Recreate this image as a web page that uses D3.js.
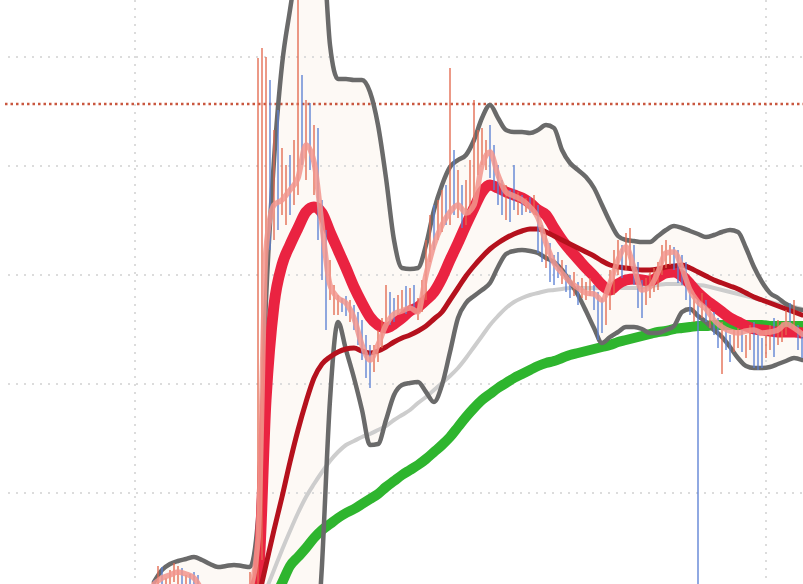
<!DOCTYPE html>
<html><head><meta charset="utf-8">
<script src="https://cdn.jsdelivr.net/npm/d3@7"></script>
<style>html,body{margin:0;padding:0;background:#fff;overflow:hidden}</style>
</head><body>
<svg id="chart" width="803" height="584"></svg>
<script>
// ---- data (price in points, bar index on x) ----
const BAR_COUNT = 163;
const LINE_STEP = 2;
const gridLevels = [543, 434, 325, 216, 107];
const timeGridBars = [-4.75, 153];
const alertLevel = 496;

const bandStart = 0;
const upperBand = [18,30,36,39,41,43,40,36,33,34,
  35,34,33,80,300,440,535,590,640,680,
  670,660,555,521,521,520,520,508,475,422,
  360,332,331,332,355,390,415,433,440,445,
  460,482,495,482,470,468,468,467,470,475,
  472,450,437,430,423,412,395,378,364,360,
  359,358,358,364,370,374,372,369,366,363,
  365,368,370,368,352,333,318,307,302,296,
  292,290];
const lowerBand = [0,-5,-8,-10,-10,-10,-8,-6,-4,-4,
  -4,-4,-3,-20,-100,-200,-280,-300,-280,-220,
  -100,35,200,278,250,222,190,155,156,180,
  205,215,217,218,208,198,215,248,282,297,
  304,310,317,333,346,349,350,349,347,342,
  338,330,318,305,289,272,257,263,268,273,
  273,271,267,267,270,274,288,291,284,278,
  270,263,253,242,234,232,232,233,236,239,
  242,240];

const fastStart = 0;
const fastMA = [16,22,25,28,26,22,10,0,-5,-5,
  0,5,12,60,350,395,400,410,422,455,
  438,375,315,302,297,282,255,240,255,275,
  286,289,292,288,325,355,375,388,395,387,
  395,435,448,425,408,404,400,393,382,357,
  337,327,318,312,307,306,300,317,340,353,
  332,310,313,328,347,348,332,310,298,291,
  280,273,269,267,269,270,267,268,270,276,
  272,266];

const ma20Start = 22;
const ma20 = [5,8,22,200,295,335,355,372,388,393,
  387,368,350,332,313,297,283,275,272,276,
  282,289,293,300,308,322,340,357,375,392,
  408,415,412,408,405,402,397,390,385,372,
  360,350,341,332,324,315,310,316,320,321,
  320,319,323,327,328,324,316,307,300,294,
  288,282,278,274,271,270,269,268,268,268,
  267];

const ma50Start = 26;
const ma50 = [0,35,70,103,138,170,198,222,236,243,
  248,251,252,249,247,249,253,258,262,265,
  269,274,281,288,300,312,324,334,343,351,
  357,362,366,369,371,371,368,364,360,356,
  352,348,344,339,335,333,332,331,330,330,
  331,333,334,335,332,328,324,320,317,314,
  311,307,303,300,297,294,291,288,285];

const ma100Start = 28;
const ma100 = [10,30,50,69,87,103,116,128,139,148,
  155,159,163,166,170,174,180,185,190,197,
  203,210,217,224,232,242,253,264,275,284,
  292,298,302,305,307,309,310,311,312,312,
  312,312,312,312,312,312,312,313,314,315,
  316,316,316,316,315,314,312,310,308,306,
  304,302,300,298,296,295,293,291];

const ma200Start = 30;
const ma200 = [0,17,34,43,52,62,70,76,82,87,
  91,96,101,106,113,119,125,130,135,141,
  148,155,163,173,183,192,200,206,212,217,
  222,226,230,234,237,239,242,245,247,249,
  251,253,255,258,260,262,264,266,268,269,
  271,272,273,274,274,275,275,275,275,275,
  275,275,274,274,274,274,274];

const candleHigh = [20,34,33,22,30,37,34,32,25,26,
  28,25,10,6,2,0,-2,0,2,4,
  6,10,12,15,28,32,542,552,543,520,
  470,490,452,435,445,460,600,525,500,497,
  475,472,400,370,340,315,305,302,304,300,
  295,288,280,265,255,255,270,282,315,308,
  302,305,310,314,312,315,302,320,360,385,
  395,400,410,415,532,450,430,415,420,440,
  500,470,472,460,475,455,435,420,415,410,
  435,408,405,402,403,405,395,375,365,357,
  345,348,340,335,325,328,318,322,318,322,
  315,308,302,305,330,350,360,355,367,372,
  355,338,320,322,328,332,338,355,360,355,
  353,350,345,338,310,305,300,307,300,292,
  288,282,278,272,265,270,272,270,265,275,
  278,270,262,270,275,282,280,278,290,297,
  300,275,268];
const candleLow = [10,16,12,8,14,18,16,15,10,10,
  8,5,-5,-8,-12,-15,-16,-14,-12,-10,
  -8,-4,-2,0,8,10,16,40,300,350,
  360,370,385,375,385,395,405,435,420,430,
  405,360,320,270,300,285,285,288,284,278,
  270,255,240,222,212,228,238,252,278,275,
  278,285,288,286,290,292,280,288,300,338,
  350,360,368,375,375,385,382,372,375,385,
  400,425,435,430,422,410,395,385,380,378,
  390,385,385,388,387,385,347,338,332,318,
  315,322,316,308,302,304,295,302,300,304,
  290,260,267,275,290,305,325,322,330,334,
  315,292,282,295,302,308,310,325,332,335,
  330,317,315,300,285,278,-40,282,278,272,
  265,252,226,250,238,248,252,248,242,250,
  232,230,232,242,250,243,255,258,265,272,
  270,250,242];
const candleDir = ("duduuuudud" + "ddddduduuu" + "uuuuuuuuud" + "uduuduudud" +
  "uddduuuddu" + "ddddduuuud" + "duududuuuu" + "duudududuu" + "uuuuddddud" +
  "dudududdud" + "ddudduduuu" + "ddduuuuduu" + "ddduuuuuuu" + "dddddududu" +
  "ddudduuduu" + "ddduuduuud" + "udd").split("");

// ---- drawing ----
const W = 803, H = 584;
const svg = d3.select("#chart");
svg.append("rect").attr("width", W).attr("height", H).attr("fill", "#ffffff");

const x = d3.scaleLinear().domain([0, BAR_COUNT - 1]).range([154, 802]);
const y = d3.scaleLinear().domain([0, 600]).range([600, 0]);

const toPts = (arr, start) => arr.map((v, k) => ({ i: start + k * LINE_STEP, v }));
const line = d3.line().x(d => x(d.i)).y(d => y(d.v)).curve(d3.curveMonotoneX);

const g = svg.append("g");

// band fill
const bandPts = upperBand.map((u, k) => ({ i: bandStart + k * LINE_STEP, u, l: lowerBand[k] }));
g.append("path").datum(bandPts)
  .attr("d", d3.area().x(d => x(d.i)).y0(d => y(d.l)).y1(d => y(d.u)).curve(d3.curveMonotoneX))
  .attr("fill", "#fdf9f5");

// grid
g.selectAll(".hg").data(gridLevels).join("line")
  .attr("x1", 8).attr("x2", W).attr("y1", d => y(d)).attr("y2", d => y(d))
  .attr("stroke", "#dcdcdc").attr("stroke-width", 2).attr("stroke-dasharray", "2,6");
g.selectAll(".vg").data(timeGridBars).join("line")
  .attr("x1", d => x(d)).attr("x2", d => x(d)).attr("y1", 0).attr("y2", H)
  .attr("stroke", "#dcdcdc").attr("stroke-width", 2).attr("stroke-dasharray", "2,6");

// alert level
g.append("line").attr("x1", 5).attr("x2", W).attr("y1", y(alertLevel)).attr("y2", y(alertLevel))
  .attr("stroke", "#c9573f").attr("stroke-width", 2.5).attr("stroke-dasharray", "2.5,3");

function drawLine(arr, start, color, width, opacity) {
  g.append("path").datum(toPts(arr, start)).attr("d", line)
    .attr("fill", "none").attr("stroke", color).attr("stroke-width", width)
    .attr("stroke-linejoin", "round").attr("stroke-linecap", "round")
    .attr("opacity", opacity || 1);
}

drawLine(ma200, ma200Start, "#2eb52e", 10);
drawLine(ma100, ma100Start, "#cdcdcd", 4);
drawLine(upperBand, bandStart, "#6a6a6a", 4.5);
drawLine(lowerBand, bandStart, "#6a6a6a", 4.5);
drawLine(ma20, ma20Start, "#ea2341", 11);
drawLine(ma50, ma50Start, "#b5111d", 5);

// candles (high-low bars)
const candles = candleHigh.map((h, i) => ({ i, h, l: candleLow[i], dir: candleDir[i] }));
g.selectAll(".c").data(candles).join("line")
  .attr("x1", d => x(d.i)).attr("x2", d => x(d.i))
  .attr("y1", d => y(d.h)).attr("y2", d => y(d.l))
  .attr("stroke", d => d.dir === "u" ? "#e3694f" : "#5b80d4")
  .attr("stroke-width", 1.5).attr("opacity", 0.9);

drawLine(fastMA, fastStart, "#f2958d", 5.5, 0.85);
</script>
</body></html>
